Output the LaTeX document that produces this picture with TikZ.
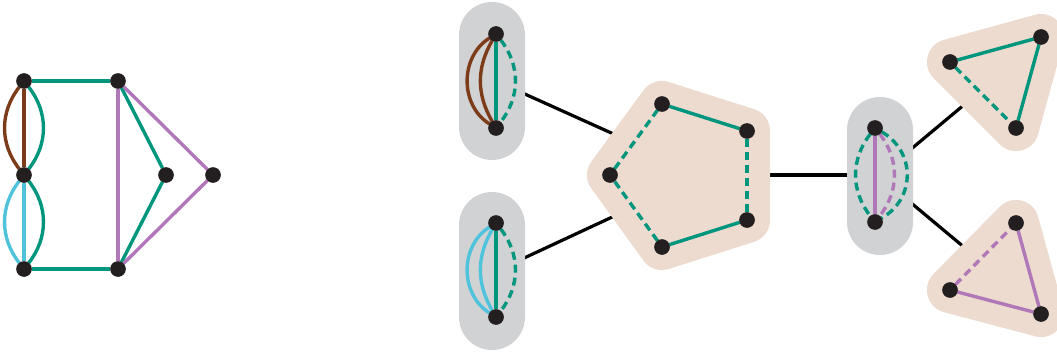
\documentclass[tikz,border=0pt]{standalone}
\definecolor{egreen}{HTML}{00967D}
\definecolor{ebrown}{HTML}{7D3C19}
\definecolor{ecyan}{HTML}{50C3DC}
\definecolor{epurple}{HTML}{B078B8}
\definecolor{pillgray}{HTML}{D1D2D4}
\definecolor{blobbeige}{HTML}{EDDBCF}
\definecolor{dotblack}{HTML}{231F20}
\begin{document}
\begin{tikzpicture}[x=1pt,y=-1pt,
  vtx/.style={circle,fill=dotblack,inner sep=0pt,minimum size=15pt},
  e/.style={line width=3.4pt},
  dsh/.style={e,dash pattern=on 8pt off 5pt},
  pill/.style={fill=pillgray,rounded corners=33pt,minimum width=66pt,minimum height=158pt,inner sep=0pt},
  blob/.style={fill=blobbeige,draw=blobbeige,line width=46pt,line join=round},
  link/.style={line width=3.2pt,black}]
\useasboundingbox (0,0) rectangle (1057,353);

% ---------- vertex positions ----------
\coordinate (a1) at (24,81);   \coordinate (a2) at (118,81);
\coordinate (a3) at (24,175);  \coordinate (a4) at (166,175);
\coordinate (a5) at (213,175); \coordinate (a6) at (24,269);
\coordinate (a7) at (118,269);
\coordinate (b1) at (496,34);  \coordinate (b2) at (496,128);
\coordinate (c1) at (496,223); \coordinate (c2) at (496,317);
\coordinate (p1) at (662,104); \coordinate (p2) at (747,131);
\coordinate (p3) at (747,220); \coordinate (p4) at (662,247);
\coordinate (p5) at (610,175);
\coordinate (d1) at (875,128); \coordinate (d2) at (875,222);
\coordinate (t1) at (950,62);  \coordinate (t2) at (1041,37);
\coordinate (t3) at (1016,128);
\coordinate (u1) at (1016,223); \coordinate (u2) at (950,290);
\coordinate (u3) at (1041,314);

% ---------- black links between the groups (ends hidden under the groups) ----------
\coordinate (k1a) at (507,86);  \coordinate (k1b) at (638,145);
\coordinate (k2a) at (507,266); \coordinate (k2b) at (638,205);
\coordinate (k3a) at (760,175); \coordinate (k3b) at (860,175);
\coordinate (k4a) at (898,160); \coordinate (k4b) at (977,94);
\coordinate (k5a) at (898,192); \coordinate (k5b) at (977,258);
\draw[link] (k1a) -- (k1b);
\draw[link] (k2a) -- (k2b);
\draw[link] (k3a) -- (k3b);
\draw[link] (k4a) -- (k4b);
\draw[link] (k5a) -- (k5b);

% ---------- group backgrounds ----------
\node[pill] (P1) at (492,81) {};
\node[pill] (P2) at (492,271) {};
\node[pill] (P3) at (880,176) {};
\filldraw[blob] (p1) -- (p2) -- (p3) -- (p4) -- (p5) -- cycle;
\filldraw[blob] (t1) -- (t2) -- (t3) -- cycle;
\filldraw[blob] (u1) -- (u3) -- (u2) -- cycle;

% ---------- vertices (named, so the edges can end on them) ----------
\foreach \v in {a1,a2,a3,a4,a5,a6,a7,b1,b2,c1,c2,p1,p2,p3,p4,p5,d1,d2,t1,t2,t3,u1,u2,u3}
  \node[vtx] (\v v) at (\v) {};

% ---------- left graph ----------
\draw[e,egreen] (a1v) -- (a2v);
\draw[e,egreen] (a6v) -- (a7v);
\draw[e,egreen] (a1v) to[bend left=38] (a3v);
\draw[e,egreen] (a3v) to[bend left=38] (a6v);
\draw[e,ebrown] (a1v) -- (a3v);
\draw[e,ebrown] (a1v) to[bend right=38] (a3v);
\draw[e,ecyan] (a3v) -- (a6v);
\draw[e,ecyan] (a3v) to[bend right=38] (a6v);
\draw[e,egreen] (a2v) -- (a4v);
\draw[e,egreen] (a4v) -- (a7v);
\draw[e,epurple] (a2v) -- (a7v);
\draw[e,epurple] (a2v) -- (a5v);
\draw[e,epurple] (a5v) -- (a7v);

% ---------- first pill ----------
\draw[e,ebrown] (b1v) to[bend right=58,looseness=1.05] (b2v);
\draw[e,ebrown] (b1v) to[bend right=30] (b2v);
\draw[e,egreen] (b1v) -- (b2v);
\draw[dsh,egreen] (b1v) to[bend left=38] (b2v);

% ---------- second pill ----------
\draw[e,ecyan] (c1v) to[bend right=58,looseness=1.05] (c2v);
\draw[e,ecyan] (c1v) to[bend right=30] (c2v);
\draw[e,egreen] (c1v) -- (c2v);
\draw[dsh,egreen] (c1v) to[bend left=38] (c2v);

% ---------- pentagon ----------
\draw[e,egreen] (p1v) -- (p2v);
\draw[dsh,egreen] (p2v) -- (p3v);
\draw[e,egreen] (p3v) -- (p4v);
\draw[dsh,egreen] (p4v) -- (p5v);
\draw[dsh,egreen] (p5v) -- (p1v);

% ---------- third pill ----------
\draw[e,epurple] (d1v) -- (d2v);
\draw[dsh,egreen] (d1v) to[bend right=38] (d2v);
\draw[dsh,egreen] (d1v) to[bend left=60,looseness=1.17] (d2v);
\draw[dsh,epurple] (d1v) to[bend left=38] (d2v);

% ---------- triangles ----------
\draw[e,egreen] (t1v) -- (t2v);
\draw[e,egreen] (t2v) -- (t3v);
\draw[dsh,egreen] (t1v) -- (t3v);
\draw[e,epurple] (u1v) -- (u3v);
\draw[e,epurple] (u2v) -- (u3v);
\draw[dsh,epurple] (u2v) -- (u1v);

% vertex dots again, on top of the edges
\foreach \v in {a1,a2,a3,a4,a5,a6,a7,b1,b2,c1,c2,p1,p2,p3,p4,p5,d1,d2,t1,t2,t3,u1,u2,u3}
  \fill[dotblack] (\v) circle (7.8pt);
\end{tikzpicture}
\end{document}
